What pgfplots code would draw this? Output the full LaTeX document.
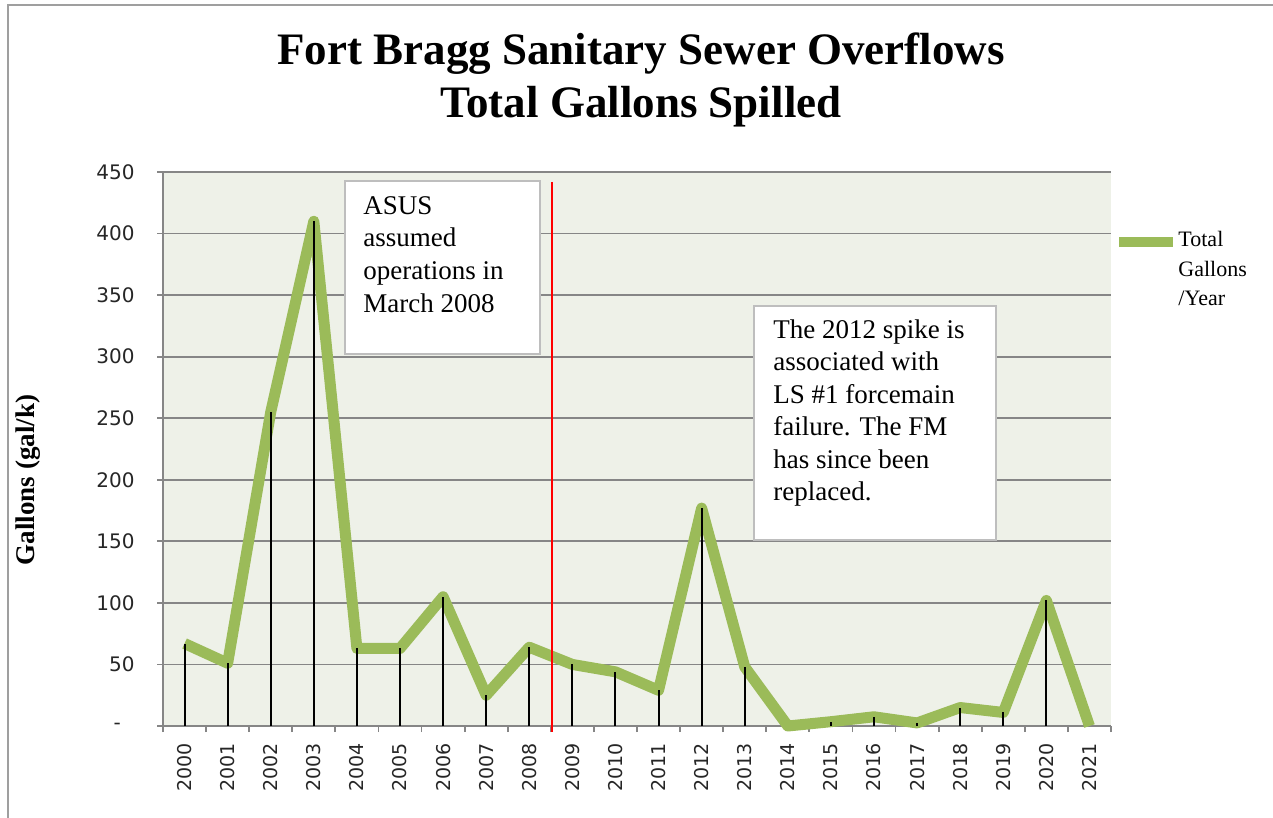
\documentclass[border=0pt]{standalone}
\usepackage{fontspec}
\setmainfont{Liberation Serif}
\newfontfamily\tickfont{DejaVu Sans}
\usepackage{pgfplots}
\usepackage{pgfplotstable}
\pgfplotsset{compat=1.18}
\definecolor{sgreen}{RGB}{155,187,89}
\definecolor{plotbg}{RGB}{238,241,232}
\definecolor{gridc}{RGB}{134,134,134}
\definecolor{boxc}{RGB}{190,190,190}
\definecolor{vred}{RGB}{255,0,0}

\pgfplotstableread{
x y
0 67
1 51
2 255
3 410
4 63
5 63
6 105
7 25
8 64
9 50
10 44
11 29
12 177
13 48
14 0
15 3.5
16 7.5
17 2.5
18 15
19 11
20 102
21 0
}\spills

\pgfplotstableread{
x y
8.52 442
8.52 -4.6
}\marker

\begin{document}
\begin{tikzpicture}
\begin{scope}[x=0.5pt,y=-0.5pt]
\useasboundingbox (0,0) rectangle (1273,818);
\draw[gray!75, line width=0.8pt] (8,818) -- (8,5) -- (1273,5);
\end{scope}
\begin{axis}[
  at={(81.5pt,-363pt)}, anchor=south west,
  scale only axis, width=474pt, height=277pt,
  xmin=-0.5, xmax=21.5, ymin=0, ymax=450,
  axis x line*=bottom, axis y line*=left,
  axis line style={gridc, line width=0.9pt, -},
  xtick={0,...,21},
  xticklabels={2000,2001,2002,2003,2004,2005,2006,2007,2008,2009,2010,2011,2012,2013,2014,2015,2016,2017,2018,2019,2020,2021},
  minor xtick={-0.5,0.5,...,21.5},
  major x tick style={draw=none},
  minor x tick style={gridc, line width=0.9pt},
  minor tick length=3pt,
  major tick length=3pt,
  tick align=outside,
  ytick={0,50,...,450},
  yticklabels={\makebox[10.5pt][l]{-},50,100,150,200,250,300,350,400,450},
  y tick style={gridc, line width=0.9pt},
  ymajorgrids, grid style={gridc, line width=0.9pt},
  axis background/.style={fill=plotbg},
  clip=false,
  xticklabel style={font=\tickfont\fontsize{9.5}{11}\selectfont, rotate=90, anchor=east, inner sep=0pt, text=black!85},
  yticklabel style={font=\tickfont\fontsize{10}{12}\selectfont, inner sep=0pt, text=black!85},
  xticklabel shift=5.5pt,
  yticklabel shift=11pt,
  legend style={at={(axis description cs:1.0032,0.91)}, anchor=north west, draw=none, fill=none, inner sep=0pt,
    font=\fontsize{11}{14.75}\selectfont, cells={anchor=base west}},
  legend image code/.code={\draw[sgreen, line width=5pt] (0pt,2.5pt) -- (27pt,2.5pt);},
]
\addplot[sgreen, line width=5.5pt, line join=round] table[x=x,y=y] {\spills};
\addlegendentry{\begin{tabular}[t]{@{}l@{}}\hspace{-2pt}Total\\\hspace{-2pt}Gallons\\\hspace{-2pt}/Year\end{tabular}}
\addplot[ycomb, black, line width=1pt, forget plot] table[x=x,y=y] {\spills};
\addplot[draw=vred, color=vred, line width=1pt, forget plot] table[x=x,y=y] {\marker};
\end{axis}
\begin{scope}[x=0.5pt,y=-0.5pt]
\node[anchor=base, font=\bfseries\fontsize{22.5}{27}\selectfont] at (641,65) {Fort Bragg Sanitary Sewer Overflows};
\node[anchor=base, font=\bfseries\fontsize{22.5}{27}\selectfont] at (641,118) {Total Gallons Spilled};
\node[rotate=90, font=\bfseries\fontsize{13.5}{16}\selectfont] at (28,480) {Gallons (gal/k)};
\draw[boxc, fill=white, line width=0.8pt] (345,181) rectangle (540,354);
\begin{scope}[every node/.style={anchor=base west, inner sep=0pt, font=\fontsize{13.5}{16}\selectfont}]
\node at (363,214) {ASUS};
\node at (363,247) {assumed};
\node at (363,279.5) {operations in};
\node at (363,312) {March 2008};
\end{scope}
\draw[boxc, fill=white, line width=0.8pt] (754,306) rectangle (996,540);
\begin{scope}[every node/.style={anchor=base west, inner sep=0pt, font=\fontsize{13.5}{16}\selectfont}]
\node at (773,338) {The 2012 spike is};
\node at (773,370.5) {associated with};
\node at (773,403) {LS \#1 forcemain};
\node at (773,435.5) {failure. The FM};
\node at (773,468) {has since been};
\node at (773,500.5) {replaced.};
\end{scope}
\end{scope}
\end{tikzpicture}
\end{document}
